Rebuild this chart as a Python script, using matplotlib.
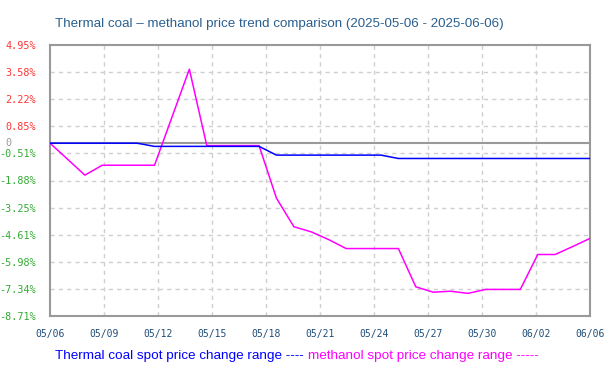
import numpy as np
import matplotlib
matplotlib.use("Agg")
import matplotlib.pyplot as plt

# days since 2025-05-06 (0 .. 31 -> 06/06)
days = list(range(32))

# thermal coal spot price change range (%)
coal = [0, 0, 0, 0, 0, 0,
        -0.16, -0.16, -0.16, -0.16, -0.16, -0.16, -0.16,
        -0.60, -0.60, -0.60, -0.60, -0.60, -0.60, -0.60,
        -0.77, -0.77, -0.77, -0.77, -0.77, -0.77, -0.77, -0.77,
        -0.77, -0.77, -0.77, -0.77]

# methanol spot price change range (%)
methanol = [0, -0.80, -1.61, -1.11, -1.11, -1.11, -1.11, 1.31, 3.73,
            -0.12, -0.12, -0.12, -0.12, -2.77, -4.21, -4.47, -4.86,
            -5.31, -5.31, -5.31, -5.31, -7.24, -7.51, -7.46, -7.57,
            -7.37, -7.37, -7.37, -5.61, -5.61, -5.21, -4.80]

x_labels = ["05/06", "05/09", "05/12", "05/15", "05/18", "05/21",
            "05/24", "05/27", "05/30", "06/02", "06/06"]
y_ticks = [4.95, 3.58, 2.22, 0.85, -0.51, -1.88, -3.25, -4.61, -5.98, -7.34, -8.71]

W, H = 614, 382
fig = plt.figure(figsize=(W / 100, H / 100), dpi=100)
ax = fig.add_axes([50 / W, (H - 316) / H, 540 / W, 271 / H])

ymin, ymax = -8.71, 4.95
ax.set_xlim(0, 31)
ax.set_ylim(ymin, ymax)

grid_kw = dict(color="#cfcfcf", lw=1.0, ls=(0, (3, 3)), zorder=1)
xt = np.linspace(0, 31, len(x_labels))
yt = np.linspace(ymax, ymin, len(y_ticks))
for v in xt[1:-1]:
    ax.axvline(v, **grid_kw)
for v in yt[1:-1]:
    ax.axhline(v, **grid_kw)
ax.axhline(0, color="#999999", lw=1.5, zorder=2)

ax.plot(days, coal, color="#0000ff", lw=1.1, zorder=4)
ax.plot(days, methanol, color="#ff00ff", lw=1.1, zorder=3)

for s in ax.spines.values():
    s.set_color("#999999")
    s.set_linewidth(1.5)

mono = "DejaVu Sans Mono"
ax.set_xticks(xt)
ax.set_xticklabels(x_labels, family=mono, fontsize=7, color="#1f4e79")
ax.set_yticks(yt)
ax.set_yticklabels([f"{v:.2f}%" for v in y_ticks], family=mono, fontsize=7.3)
for lab, v in zip(ax.get_yticklabels(), y_ticks):
    lab.set_color("#ff3333" if v > 0 else "#33aa33")
ax.tick_params(length=0, pad=9)
ax.tick_params(axis="y", pad=10)
fig.text(5 / W, 1 - 143 / H, "0", family=mono, fontsize=7.3, color="#999999",
         ha="left", va="center")

fig.text(55 / W, 1 - 24 / H,
         "Thermal coal \u2013 methanol price trend comparison (2025-05-06 - 2025-06-06)",
         family="Liberation Sans", fontsize=9.6, color="#2a5f8f", ha="left", va="center")

t1 = fig.text(55 / W, 1 - 356 / H, "Thermal coal spot price change range ----",
              family="Liberation Sans", fontsize=9.7, color="#0000ff",
              ha="left", va="center")
fig.canvas.draw()
bb = t1.get_window_extent()
fig.text((bb.x1 + 4) / W, 1 - 356 / H, "methanol spot price change range -----",
         family="Liberation Sans", fontsize=9.7, color="#ff00ff",
         ha="left", va="center")

fig.savefig("out.png", dpi=100)
